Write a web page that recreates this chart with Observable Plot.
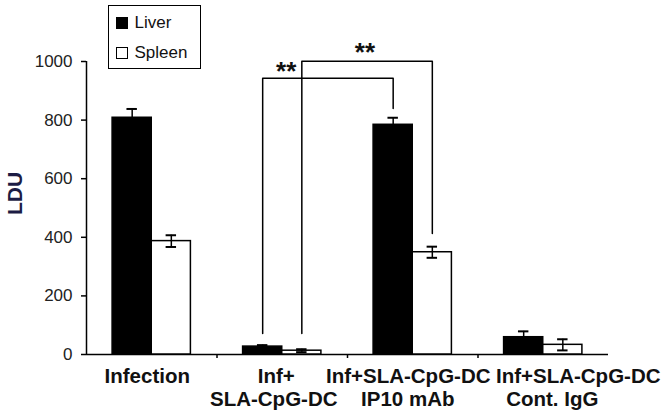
<!DOCTYPE html>
<html>
<head>
<meta charset="utf-8">
<script src="https://cdn.jsdelivr.net/npm/d3@7"></script>
<script src="https://cdn.jsdelivr.net/npm/@observablehq/plot@0.6"></script>
<style>
  html, body { margin: 0; padding: 0; background: #fff; }
  #wrap { position: relative; width: 668px; height: 417px; font-family: "Liberation Sans", Arial, sans-serif; }
  #legend { position: absolute; left: 108px; top: 5px; width: 91px; height: 62px; border: 1.5px solid #000; background: #fff; }
  .item { position: absolute; left: 6.5px; height: 20px; display: flex; align-items: center; font-size: 17px; color: #111; }
  .sw { width: 12px; height: 12px; border: 1.4px solid #000; margin-right: 7px; box-sizing: border-box; }
</style>
</head>
<body>
<div id="wrap">
  <div id="chart"></div>
  <div id="legend">
    <div class="item" style="top:7px"><div class="sw" style="background:#000"></div>Liver</div>
    <div class="item" style="top:37px"><div class="sw" style="background:#fff"></div>Spleen</div>
  </div>
</div>
<script>
// ---- data ----
const categories = ["Infection", "Inf+SLA-CpG-DC", "Inf+SLA-CpG-DC IP10 mAb", "Inf+SLA-CpG-DC Cont. IgG"];
const labelLine1 = ["Infection", "Inf+", "Inf+SLA-CpG-DC", "Inf+SLA-CpG-DC"];
const labelLine2 = ["", "SLA-CpG-DC", "IP10 mAb", "Cont. IgG"];
const liver = [808, 27, 784, 59];
const liverErr = [30, 5, 24, 20];
const spleen = [387, 13, 349, 33];
const spleenErr = [20, 5, 19, 19];
const yTicks = [0, 200, 400, 600, 800, 1000];
// significance brackets: from group/series to group/series, top value, leg ends
const bracketFrom = [[1, "Liver"], [1, "Spleen"]];
const bracketTo = [[2, "Liver"], [2, "Spleen"]];
const bracketTop = [943, 1001];
const bracketLegFrom = [72, 72];
const bracketLegTo = [840, 413];
const sigLabel = ["**", "**"];
const sigX = [1.03, 1.634];
const sigY = [983, 1046];

// ---- derived tables ----
const W = 0.3; // bar width in band units
const centerOf = (i, s) => s === "Liver" ? i - W / 2 : i + W / 2;
const bars = categories.flatMap((c, i) => [
  {i, series: "Liver", value: liver[i], err: liverErr[i]},
  {i, series: "Spleen", value: spleen[i], err: spleenErr[i]}
]);
const bracketPts = bracketFrom.flatMap((f, k) => {
  const x1 = centerOf(f[0], f[1]), x2 = centerOf(bracketTo[k][0], bracketTo[k][1]);
  return [
    {k, x: x1, y: bracketLegFrom[k]},
    {k, x: x1, y: bracketTop[k]},
    {k, x: x2, y: bracketTop[k]},
    {k, x: x2, y: bracketLegTo[k]}
  ];
});
const sig = sigLabel.map((t, k) => ({t, x: sigX[k], y: sigY[k]}));

const font = '"Liberation Sans", Arial, sans-serif';
const shift1 = [-4.5, -6, -4.5, 35];
const shift2 = [0, -8.5, -5, 9];
const labelMarks = categories.flatMap((c, i) => [
  Plot.text([{x: i, t: labelLine1[i]}], {x: "x", y: () => 0, text: "t", dx: shift1[i], dy: 21.5, lineAnchor: "middle",
    fontSize: 20.5, fontWeight: "bold", fill: "#111", fontFamily: font}),
  Plot.text([{x: i, t: labelLine2[i]}], {x: "x", y: () => 0, text: "t", dx: shift2[i], dy: 44.5, lineAnchor: "middle",
    fontSize: 20.5, fontWeight: "bold", fill: "#111", fontFamily: font})
]);

const chart = Plot.plot({
  width: 668,
  height: 417,
  marginLeft: 86,
  marginRight: 60,
  marginTop: 61,
  marginBottom: 63,
  style: {fontFamily: font, background: "#fff", overflow: "visible"},
  x: {domain: [-0.5, categories.length - 0.5], axis: null},
  y: {domain: [0, 1000], axis: null},
  marks: [
    Plot.axisY({ticks: yTicks, tickSize: 5, tickPadding: 9, tickFormat: d3.format("d"), fontSize: 17, fill: "#222", label: null, strokeWidth: 1.5}),
    Plot.axisX({ticks: [0.5, 1.5, 2.5], tickSize: 4, tickFormat: () => "", label: null, strokeWidth: 1.5}),
    Plot.ruleX([-0.5], {y1: 0, y2: 1000, stroke: "#000", strokeWidth: 1.5}),
    Plot.ruleY([0], {stroke: "#000", strokeWidth: 1.5}),
    Plot.rectY(bars, {
      x1: d => d.series === "Liver" ? d.i - W : d.i,
      x2: d => d.series === "Liver" ? d.i : d.i + W,
      y1: 0, y2: "value",
      fill: d => d.series === "Liver" ? "#000" : "#fff",
      stroke: "#000", strokeWidth: 1.5
    }),
    Plot.ruleX(bars, {x: d => centerOf(d.i, d.series), y1: d => d.value - d.err, y2: d => d.value + d.err,
      stroke: "#000", strokeWidth: 1.5}),
    Plot.ruleY(bars.flatMap(d => [{...d, v: d.value + d.err}, {...d, v: d.value - d.err}]), {
      y: "v", x1: d => centerOf(d.i, d.series) - 0.04, x2: d => centerOf(d.i, d.series) + 0.04,
      stroke: "#000", strokeWidth: 2}),
    Plot.line(bracketPts, {x: "x", y: "y", z: "k", stroke: "#000", strokeWidth: 1.5, curve: "linear"}),
    Plot.text(sig, {x: "x", y: "y", text: "t", fontSize: 26, fontWeight: "bold", fill: "#111", fontFamily: font, lineAnchor: "middle", dy: 5}),
    ...labelMarks,
    Plot.text(["LDU"], {frameAnchor: "left", dx: -71, dy: 7, rotate: -90, text: d => d, fontSize: 21, fontWeight: "bold", fill: "#1c1c44", fontFamily: font})
  ]
});
document.getElementById("chart").appendChild(chart);
</script>
</body>
</html>
